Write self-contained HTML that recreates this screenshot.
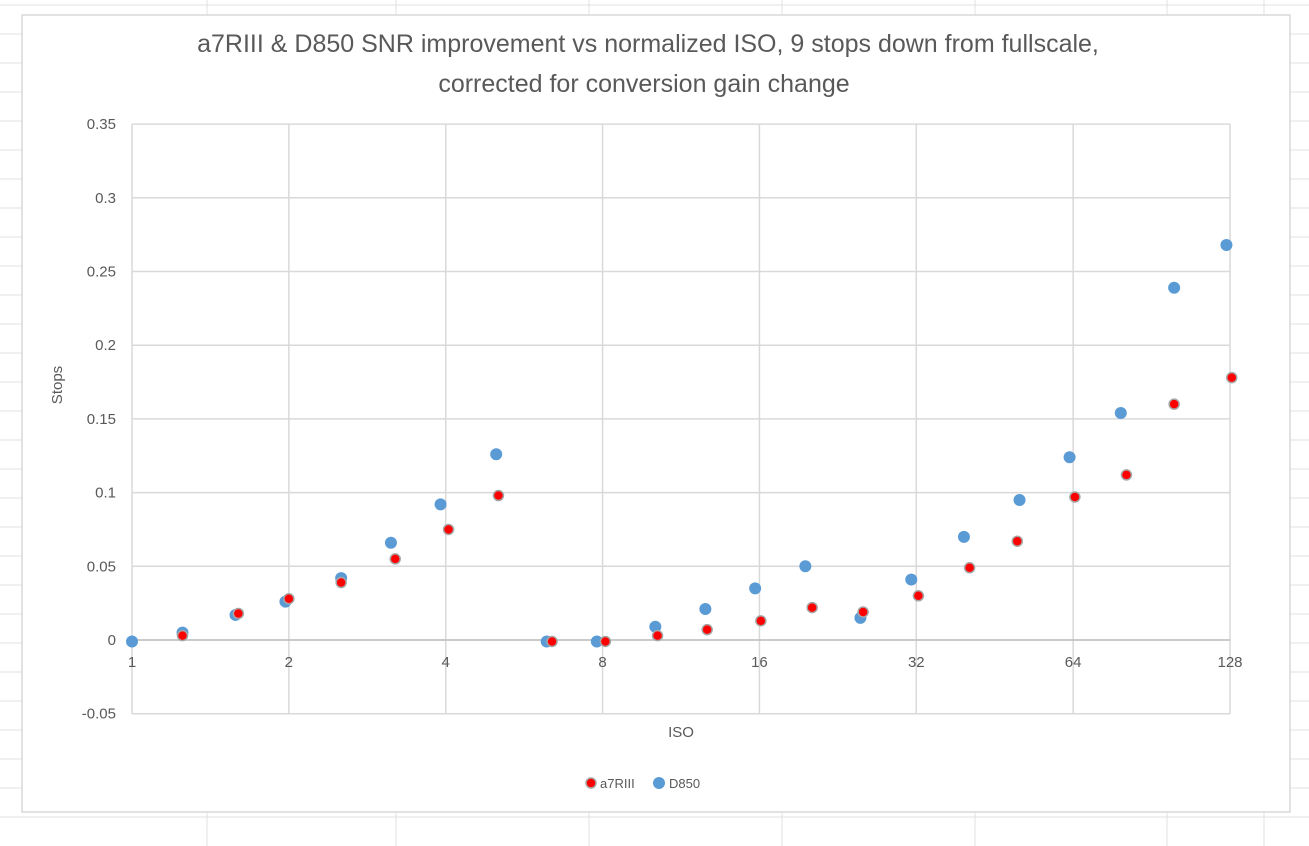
<!DOCTYPE html>
<html><head><meta charset="utf-8"><style>
body{margin:0;background:#fff;font-family:"Liberation Sans",sans-serif;}
svg{display:block}
</style></head><body>
<svg id="c" width="1309" height="846" xmlns="http://www.w3.org/2000/svg">
<g id="sheet"></g>
<rect x="22" y="15" width="1268" height="797" fill="#fff" stroke="#d9d9d9" stroke-width="1.5"/>
<text x="648" y="52" text-anchor="middle" font-size="25" fill="#595959">a7RIII &amp; D850 SNR improvement vs normalized ISO, 9 stops down from fullscale,</text>
<text x="644" y="92" text-anchor="middle" font-size="25" fill="#595959">corrected for conversion gain change</text>
<g id="grid"></g>
<g id="ticks"></g>
<text x="62" y="385" transform="rotate(-90 62 385)" text-anchor="middle" font-size="15" fill="#595959">Stops</text>
<text x="681" y="737" text-anchor="middle" font-size="15" fill="#595959">ISO</text>
<g id="marks"></g>
<g>
<g><circle cx="591" cy="783" r="5" fill="#ff0000" stroke="#a6a6a6" stroke-width="1.5"/><text x="600" y="788" font-size="13" fill="#595959">a7RIII</text></g>
<g><circle cx="659" cy="783" r="6" fill="#5b9bd5"/><text x="669" y="788" font-size="13" fill="#595959">D850</text></g>
</g>
</svg>
<script>
const xTicks=[1,2,4,8,16,32,64,128];
const yTicks=[-0.05,0,0.05,0.1,0.15,0.2,0.25,0.3,0.35];
const yTickLabels=["-0.05","0","0.05","0.1","0.15","0.2","0.25","0.3","0.35"];
const a7Iso=[1.25,1.6,2,2.52,3.2,4.05,5.05,6.4,8.1,10.2,12.7,16.1,20.2,25.3,32.3,40.5,50,64.5,81,100,129];
const a7Val=[0.003,0.018,0.028,0.039,0.055,0.075,0.098,-0.001,-0.001,0.003,0.007,0.013,0.022,0.019,0.03,0.049,0.067,0.097,0.112,0.16,0.178];
const d850Iso=[1,1.25,1.58,1.97,2.52,3.14,3.91,5,6.25,7.8,10.1,12.6,15.7,19.6,25,31.3,39.5,50.5,63,79,100,126];
const d850Val=[-0.001,0.005,0.017,0.026,0.042,0.066,0.092,0.126,-0.001,-0.001,0.009,0.021,0.035,0.05,0.015,0.041,0.07,0.095,0.124,0.154,0.239,0.268];
const NS="http://www.w3.org/2000/svg";
const X0=132,X1=1230,Y0=640,YPX=1474;
const xs=v=>X0+(X1-X0)*Math.log2(v)/7;
const ys=v=>Y0-v*YPX;
function mk(t,a,p){const e=document.createElementNS(NS,t);for(const k in a)e.setAttribute(k,a[k]);p.appendChild(e);return e;}
const sheet=document.getElementById('sheet');
for(let y=5;y<846;y+=29){mk('line',{x1:0,x2:1309,y1:y,y2:y,stroke:'#e0e0e0'},sheet);}
[207,396,589,782,975,1167,1264].forEach(x=>mk('line',{x1:x,x2:x,y1:0,y2:846,stroke:'#e0e0e0'},sheet));
const grid=document.getElementById('grid'),ticks=document.getElementById('ticks');
yTicks.forEach((v,i)=>{
 const l=mk('line',{x1:X0,x2:X1,y1:ys(v),y2:ys(v),stroke:'#d9d9d9','stroke-width':1.5},grid);
 
 
 const t=mk('text',{x:116,y:ys(v)+5,'text-anchor':'end','font-size':15,fill:'#595959'},ticks);
 t.textContent=yTickLabels[i];
 
 
});
xTicks.forEach(v=>{
 const l=mk('line',{x1:xs(v),x2:xs(v),y1:ys(0.35),y2:ys(-0.05),stroke:'#d9d9d9','stroke-width':1.5},grid);
 
 
 const t=mk('text',{x:xs(v),y:667,'text-anchor':'middle','font-size':15,fill:'#595959'},ticks);
 t.textContent=v;
 
 
});
mk('line',{x1:X0,x2:X1,y1:ys(0),y2:ys(0),stroke:'#bfbfbf','stroke-width':1.5},grid);
const marks=document.getElementById('marks');
d850Iso.forEach((v,i)=>{
 const c=mk('circle',{cx:xs(v),cy:ys(d850Val[i]),r:6,fill:'#5b9bd5'},marks);
 
 
});
a7Iso.forEach((v,i)=>{
 const c=mk('circle',{cx:xs(v),cy:ys(a7Val[i]),r:5,fill:'#ff0000',stroke:'#a6a6a6','stroke-width':1.5},marks);
 
 
});
</script>
</body></html>
